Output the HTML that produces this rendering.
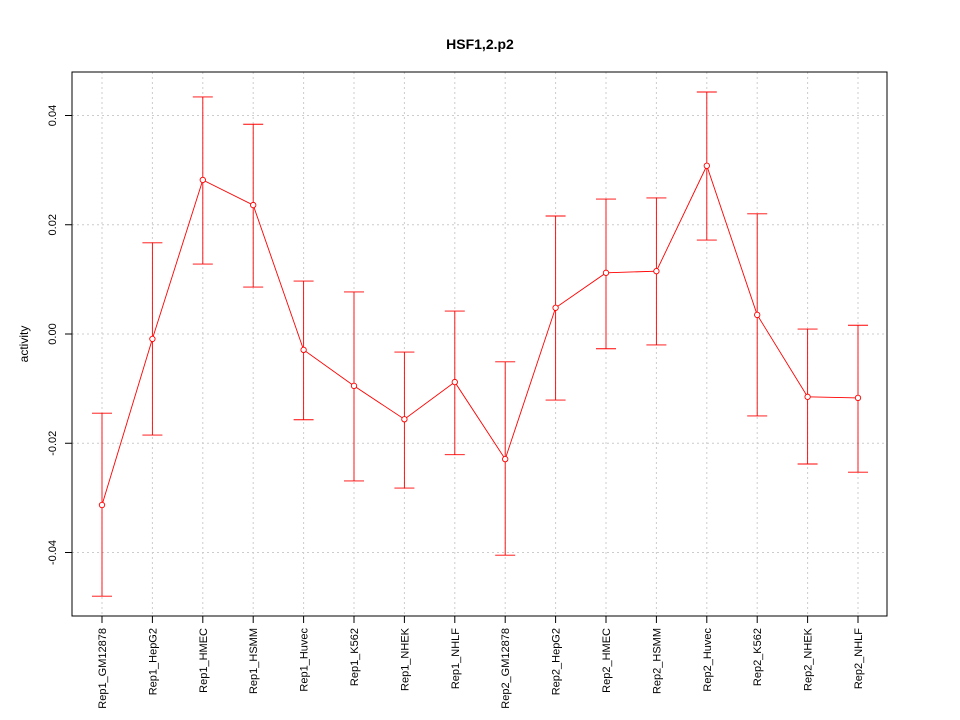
<!DOCTYPE html>
<html><head><meta charset="utf-8"><style>body{margin:0;background:#fff}svg{display:block;font-family:"Liberation Sans",sans-serif}</style></head>
<body>
<svg id="chart" width="960" height="720" xmlns="http://www.w3.org/2000/svg">
<rect width="960" height="720" fill="#fff"/>
<text x="480" y="49" text-anchor="middle" font-weight="bold" font-size="14">HSF1,2.p2</text>
<text transform="translate(28,344) rotate(-90)" text-anchor="middle" font-size="12">activity</text>
<g id="grid"></g><g id="axes"></g><g id="marks"></g>
<rect x="72" y="72" width="815" height="544" fill="none" stroke="#000"/>
</svg>
<script>
const categories=["Rep1_GM12878","Rep1_HepG2","Rep1_HMEC","Rep1_HSMM","Rep1_Huvec","Rep1_K562","Rep1_NHEK","Rep1_NHLF","Rep2_GM12878","Rep2_HepG2","Rep2_HMEC","Rep2_HSMM","Rep2_Huvec","Rep2_K562","Rep2_NHEK","Rep2_NHLF"];
const means=[-0.0313,-0.0009,0.0282,0.0236,-0.0029,-0.0095,-0.0156,-0.0088,-0.0229,0.0048,0.0112,0.0115,0.0308,0.0035,-0.0115,-0.0117];
const uppers=[-0.0145,0.0167,0.0434,0.0384,0.0097,0.0077,-0.0033,0.0042,-0.0051,0.0216,0.0247,0.0249,0.0443,0.0220,0.0009,0.0016];
const lowers=[-0.0480,-0.0185,0.0128,0.0086,-0.0157,-0.0269,-0.0282,-0.0221,-0.0405,-0.0121,-0.0027,-0.0020,0.0172,-0.0150,-0.0238,-0.0253];
const yTicks=[-0.04,-0.02,0.00,0.02,0.04];
const yTickLabels=["-0.04","-0.02","0.00","0.02","0.04"];
const NS="http://www.w3.org/2000/svg";
function X(i){return 102+i*(858-102)/(categories.length-1);}
function Y(v){return 334-v/0.02*109.25;}
function mk(t,a,p){const e=document.createElementNS(NS,t);for(const k in a)e.setAttribute(k,a[k]);document.getElementById(p).appendChild(e);return e;}
categories.forEach((c,i)=>{
 const g=mk("line",{x1:X(i),x2:X(i),y1:72,y2:616,stroke:"#ccc","stroke-dasharray":"2,3"},"grid");
 
 
 const t=mk("line",{x1:X(i),x2:X(i),y1:616,y2:623,stroke:"#000"},"axes");
 
 
 const l=mk("text",{transform:`translate(${X(i)+4},628) rotate(-90)`,"text-anchor":"end","font-size":"11"},"axes");
 l.textContent=c;
 
 
});
yTicks.forEach((v,i)=>{
 const g=mk("line",{x1:72,x2:887,y1:Y(v),y2:Y(v),stroke:"#ccc","stroke-dasharray":"2,3"},"grid");
 
 
 const t=mk("line",{x1:65,x2:72,y1:Y(v),y2:Y(v),stroke:"#000"},"axes");
 
 
 const l=mk("text",{transform:`translate(56,${Y(v)}) rotate(-90)`,"text-anchor":"middle","font-size":"11"},"axes");
 l.textContent=yTickLabels[i];
 
 
});
const pl=mk("polyline",{points:means.map((m,i)=>X(i)+","+Y(m)).join(" "),fill:"none",stroke:"red","stroke-width":"0.9"},"marks");


means.forEach((m,i)=>{
 const x=X(i);
 const e=mk("path",{d:`M${x},${Y(uppers[i])}V${Y(lowers[i])}M${x-10},${Y(uppers[i])}H${x+10}M${x-10},${Y(lowers[i])}H${x+10}`,stroke:"red",fill:"none","stroke-width":"0.9"},"marks");
 
 
 const p=mk("circle",{cx:x,cy:Y(m),r:2.7,fill:"#fff",stroke:"red","stroke-width":"0.9"},"marks");
 
 
});
</script>
</body></html>
